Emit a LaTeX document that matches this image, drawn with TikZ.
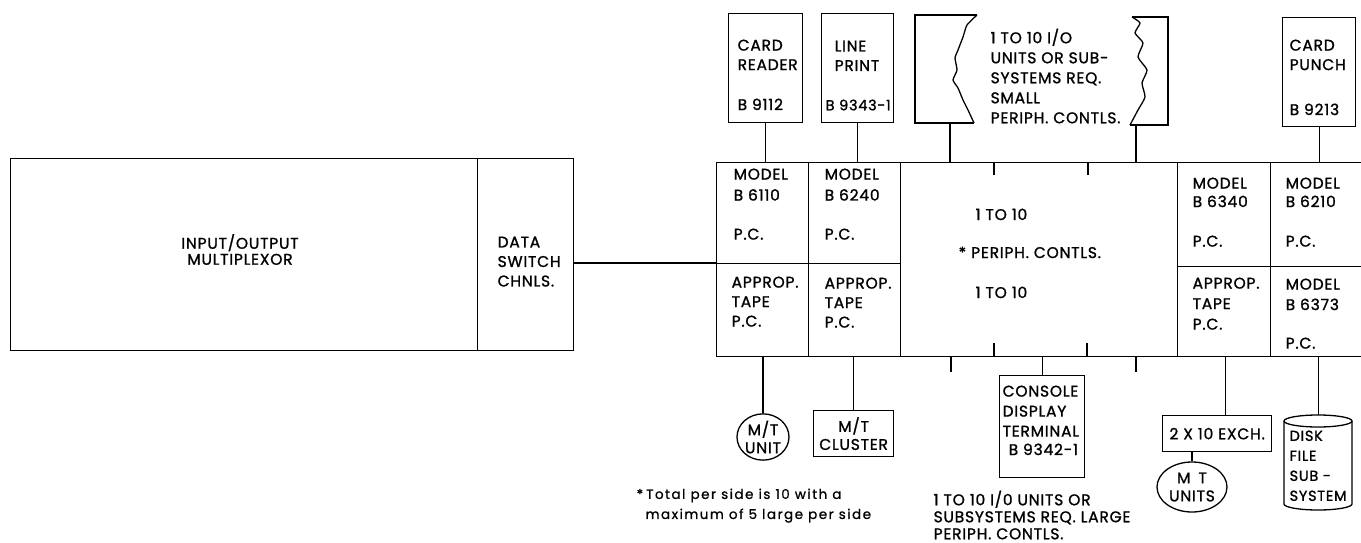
\documentclass[tikz,border=0pt]{standalone}
\usepackage{fontspec}
\setmainfont{Poppins}[FakeBold=1.2, LetterSpace=5]
\newfontfamily\notefam{Poppins}[FakeBold=1, LetterSpace=11]
\usetikzlibrary{shapes.geometric}
\newcommand{\lblfont}{\fontsize{15.5}{19.5}\selectfont}
\newcommand{\notefont}{\notefam\fontsize{13.5}{20}\selectfont}
\tikzset{
  rbox/.style={draw, inner sep=0pt, anchor=north west},
  lbl/.style={anchor=north west, inner sep=0pt, align=left, font=\lblfont},
  clbl/.style={inner sep=0pt, align=center, font=\lblfont},
  note/.style={anchor=north west, inner sep=0pt, align=left, font=\notefont},
}
\begin{document}
\begin{tikzpicture}[x=1pt, y=-1pt, line width=1.3pt]
\useasboundingbox (0,0) rectangle (1361,543);
\clip (0,0) rectangle (1361,543);

% left block
\node[rbox, minimum width=467, minimum height=192] (iom) at (10,158) {};
\node[rbox, minimum width=96, minimum height=192] (dsc) at (477,158) {};
\node[clbl, font=\fontsize{15.5}{16}\selectfont] (iomt) at (240,249.5) {INPUT/OUTPUT\\MULTIPLEXOR};
\node[lbl] (dsct) at (497,236) {DATA\\SWITCH\\CHNLS.};

% P.C. row
\node[rbox, minimum width=92, minimum height=101] (c1t) at (716,162) {};
\node[rbox, minimum width=92, minimum height=93] (c1b) at (716,263) {};
\node[rbox, minimum width=92, minimum height=101] (c2t) at (808,162) {};
\node[rbox, minimum width=92, minimum height=93] (c2b) at (808,263) {};
\node[rbox, minimum width=277, minimum height=194] (cc) at (900,162) {};
\node[rbox, minimum width=93, minimum height=104] (c3t) at (1177,162) {};
\node[rbox, minimum width=93, minimum height=90] (c3b) at (1177,266) {};
\node[rbox, minimum width=100, minimum height=104] (c4t) at (1270,162) {};
\node[rbox, minimum width=100, minimum height=90] (c4b) at (1270,266) {};

\draw (c1b.north west -| dsc.east) -- (c1b.north west);

% cell texts
\node[lbl, font=\fontsize{15.5}{21}\selectfont] (t1a) at (733,168) {MODEL\\B 6110};
\node[lbl] (t1b) at (733,228) {P.C.};
\node[lbl] (t1c) at (731,276) {APPROP.\\TAPE\\P.C.};
\node[lbl, font=\fontsize{15.5}{21}\selectfont] (t2a) at (824,168) {MODEL\\B 6240};
\node[lbl] (t2b) at (824,228) {P.C.};
\node[lbl] (t2c) at (824,277) {APPROP.\\TAPE\\P.C.};
\node[lbl] (tca) at (975,208) {1 TO 10};
\node[lbl] (tcb) at (958,246) {*\hspace{5pt}PERIPH. CONTLS.};
\node[lbl] (tcc) at (975,286) {1 TO 10};
\node[lbl, font=\fontsize{15.5}{18.5}\selectfont] (t3a) at (1192,177) {MODEL\\B 6340};
\node[lbl] (t3b) at (1192,235) {P.C.};
\node[lbl, font=\fontsize{15.5}{20.5}\selectfont] (t3c) at (1192,277) {APPROP.\\TAPE\\P.C.};
\node[lbl, font=\fontsize{15.5}{18.5}\selectfont] (t4a) at (1285,177) {MODEL\\B 6210};
\node[lbl] (t4b) at (1285,235) {P.C.};
\node[lbl, font=\fontsize{15.5}{20.5}\selectfont] (t4c) at (1285,278) {MODEL\\B 6373};
\node[lbl] (t4d) at (1285,337) {P.C.};

% top devices
\node[rbox, minimum width=74, minimum height=109] (cr) at (728,13) {};
\node[lbl] (crt) at (737,39) {CARD\\READER};
\node[lbl] (crn) at (737,98) {B 9112};
\node[rbox, minimum width=72, minimum height=109] (lp) at (821,13) {};
\node[lbl] (lpt) at (834,40) {LINE\\PRINT};
\node[lbl, font=\fontsize{14.5}{19.5}\selectfont] (lpn) at (825,99) {B 9343-1};
\node[rbox, minimum width=73, minimum height=109] (cp) at (1282,17) {};
\node[lbl] (cpt) at (1289,39) {CARD\\PUNCH};
\node[lbl] (cpn) at (1289,103) {B 9213};

\draw (cr.south) -- (cr.south |- c1t.north);
\draw (lp.south) -- (lp.south |- c2t.north);
\draw (cp.south) -- (cp.south |- c4t.north);

% jagged brackets
\draw (977,15) -- (915,15) -- (915,123) -- (974,123);
\draw plot[smooth, tension=0.35] coordinates {(974,123) (968,110) (963,100) (958,88) (953,80) (957,70) (955,58) (958,50) (963,37) (967,25) (977,15)};
\draw (1132,17) -- (1168,17) -- (1168,125) -- (1130,125);
\draw plot[smooth, tension=0.35] coordinates {(1130,125) (1138,110) (1145,97) (1142,83) (1147,70) (1138,57) (1143,43) (1135,33) (1140,23) (1132,17)};
\node[lbl, font=\fontsize{15.5}{20}\selectfont] (jt) at (990,28) {1 TO 10 I/O\\UNITS OR SUB-\\SYSTEMS REQ.\\SMALL\\PERIPH. CONTLS.};
\coordinate (jl) at (950,123);
\coordinate (jr) at (1136,125);
\draw (jl) -- (jl |- cc.north);
\draw (jr) -- (jr |- cc.north);

% ticks
\coordinate (tk1) at (994,175);
\coordinate (tk2) at (1088,175);
\coordinate (tk3) at (994,343);
\coordinate (tk4) at (1087,343);
\coordinate (tk5) at (951,372);
\coordinate (tk6) at (1136,372);
\draw (tk1) -- (tk1 |- cc.north);
\draw (tk2) -- (tk2 |- cc.north);
\draw (tk3) -- (tk3 |- cc.south);
\draw (tk4) -- (tk4 |- cc.south);
\draw (tk5) -- (tk5 |- cc.south);
\draw (tk6) -- (tk6 |- cc.south);

% bottom devices
\node[draw, ellipse, inner sep=0pt, minimum width=52, minimum height=46, align=center, font=\fontsize{15.5}{18}\selectfont] (mtu) at (763,437) {M/T\\UNIT};
\draw (mtu.north) -- (mtu.north |- c1b.south);
\node[rbox, minimum width=80, minimum height=46] (mtc) at (813,410) {};
\node[clbl, font=\fontsize{15.5}{18}\selectfont] (mtct) at (mtc.center) {M/T\\CLUSTER};
\draw (mtc.north) -- (mtc.north |- c2b.south);

\node[rbox, minimum width=85, minimum height=102] (con) at (999,375) {};
\node[lbl, font=\fontsize{15.5}{20}\selectfont] (cont) at (1002,385) {CONSOLE\\DISPLAY\\TERMINAL};
\node[lbl] (conn) at (1008,443) {B 9342-1};
\draw (con.north) -- (con.north |- cc.south);
\node[lbl, font=\fontsize{15.5}{17}\selectfont] (large) at (933,490) {1 TO 10 I/0 UNITS OR\\SUBSYSTEMS REQ. LARGE\\PERIPH. CONTLS.};

\node[note] (fn1) at (636,488) {*\hspace{3pt}Total per side is 10 with a};
\node[note] (fn2) at (645,508) {maximum of 5 large per side};

\node[rbox, minimum width=109, minimum height=36] (exch) at (1162,415) {};
\node[clbl] (excht) at (exch.center) {2 X 10 EXCH.};
\draw ([xshift=8.5pt]exch.north) -- ([xshift=8.5pt]exch.north |- c3b.south);
\node[draw, ellipse, inner sep=0pt, minimum width=70, minimum height=50, align=center, font=\fontsize{15.5}{18}\selectfont] (mtus) at (1192,487) {M\hspace{8pt}T\\UNITS};
\draw (mtus.north) -- (mtus.north |- exch.south);

\node[rbox, draw=none, minimum width=68, minimum height=95] (disk) at (1284,415) {};
\draw (1318,421) ellipse [x radius=34, y radius=6];
\draw (disk.north west) ++(0,6) -- ++(0,83) arc[start angle=180, end angle=0, x radius=34, y radius=6] -- ++(0,-83);
\node[lbl, font=\fontsize{14.5}{20}\selectfont] (diskt) at (1289,430) {DISK\\FILE\\SUB -\\SYSTEM};
\draw (disk.north) -- (disk.north |- c4b.south);
\end{tikzpicture}
\end{document}
